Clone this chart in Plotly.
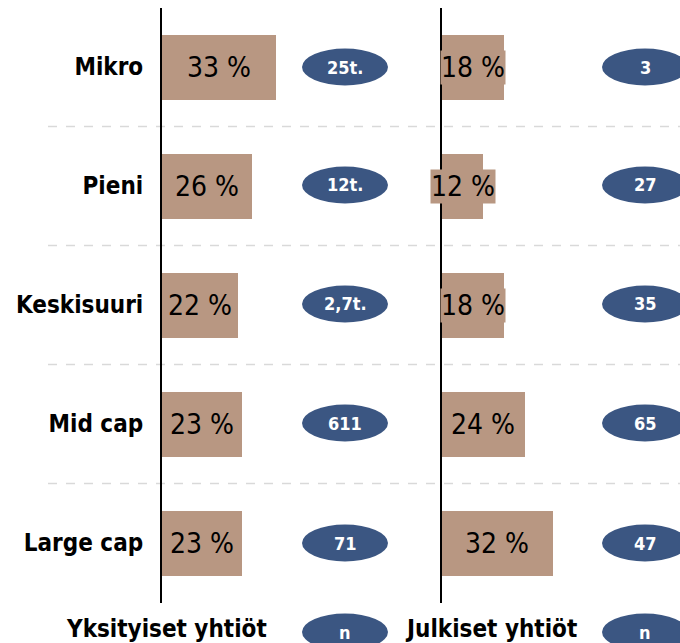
import plotly.graph_objects as go

categories = ["Mikro", "Pieni", "Keskisuuri", "Mid cap", "Large cap"]
private_pct = [33, 26, 22, 23, 23]
public_pct = [18, 12, 18, 24, 32]
private_n = ["25t.", "12t.", "2,7t.", "611", "71"]
public_n = ["3", "27", "35", "65", "47"]
panel_titles = ["Yksityiset yhtiöt", "Julkiset yhtiöt"]
n_label = "n"

W, H = 680, 643
BAR = "#b89782"
BLUE = "#3b5682"
PCT_FONT = "Liberation Sans Narrow, DejaVu Sans Condensed, sans-serif"
BOLD_FONT = "DejaVu Sans Condensed, DejaVu Sans, sans-serif"


def px(x):
    return x / W


def py(y):
    return 1 - y / H


fig = go.Figure()
fig.add_trace(go.Bar(y=categories, x=private_pct, orientation="h", width=0.54,
                     marker=dict(color=BAR, line_width=0), xaxis="x", yaxis="y",
                     hoverinfo="skip"))
fig.add_trace(go.Bar(y=categories, x=public_pct, orientation="h", width=0.54,
                     marker=dict(color=BAR, line_width=0), xaxis="x2", yaxis="y2",
                     hoverinfo="skip"))

annotations = []
shapes = []

# prosenttilaput palkkien päälle
for xa, vals in (("x", private_pct), ("x2", public_pct)):
    ya = "y" if xa == "x" else "y2"
    for cat, v in zip(categories, vals):
        annotations.append(dict(x=v / 2, y=cat, xref=xa, yref=ya, text=f"{v} %",
                                showarrow=False, bgcolor=BAR, borderpad=0,
                                xanchor="center", yanchor="middle",
                                font=dict(family=PCT_FONT, size=28, color="black")))


# n-ellipsit
def ellipse(cx, cy_px, label):
    shapes.append(dict(type="circle", xref="paper", yref="paper",
                       x0=px(cx - 43), x1=px(cx + 43),
                       y0=py(cy_px + 18.5), y1=py(cy_px - 18.5),
                       fillcolor=BLUE, line_width=0, layer="above"))
    annotations.append(dict(x=px(cx), y=py(cy_px), xref="paper", yref="paper",
                            text=f"<b>{label}</b>", showarrow=False,
                            xanchor="center", yanchor="middle",
                            font=dict(family=BOLD_FONT, size=18, color="white")))


row_y = [67, 185, 304, 423, 543]
for i in range(len(categories)):
    ellipse(345, row_y[i], private_n[i])
    ellipse(645, row_y[i], public_n[i])

ellipse(345, 632, n_label)
ellipse(645, 632, n_label)

for cx, t in zip((166, 491), panel_titles):
    annotations.append(dict(x=px(cx), y=py(629), xref="paper", yref="paper",
                            text=f"<b>{t}</b>", showarrow=False,
                            xanchor="center", yanchor="middle",
                            font=dict(family=BOLD_FONT, size=24, color="black")))

# katkoviivat rivien väliin
for k in range(len(categories) - 1):
    shapes.append(dict(type="line", xref="paper", yref="y", x0=px(48), x1=1,
                       y0=k + 0.5, y1=k + 0.5,
                       line=dict(color="#d9d9d9", width=1.5, dash="dash"), layer="below"))

ydom = [py(602.5), py(7.5)]
xr = [0, 40.5]

fig.update_layout(
    width=W, height=H,
    margin=dict(l=0, r=0, t=0, b=0),
    plot_bgcolor="white", paper_bgcolor="white",
    showlegend=False, bargap=0,
    xaxis=dict(domain=[px(162), px(302)], range=xr, visible=False, anchor="y"),
    xaxis2=dict(domain=[px(442), px(582)], range=xr, visible=False, anchor="y2"),
    yaxis=dict(domain=ydom, anchor="x", autorange="reversed", showline=True,
               linecolor="black", linewidth=2, ticks="", showgrid=False,
               ticklabelstandoff=12,
               tickfont=dict(family=BOLD_FONT, size=24, color="black"),
               tickprefix="<b>", ticksuffix="</b>"),
    yaxis2=dict(domain=ydom, anchor="x2", autorange="reversed", showline=True,
                linecolor="black", linewidth=2, ticks="", showgrid=False,
                showticklabels=False, matches="y"),
    annotations=annotations,
    shapes=shapes,
)

fig.write_html("out.html", config={"displayModeBar": False},
               post_script="document.body.style.margin='0px';")
